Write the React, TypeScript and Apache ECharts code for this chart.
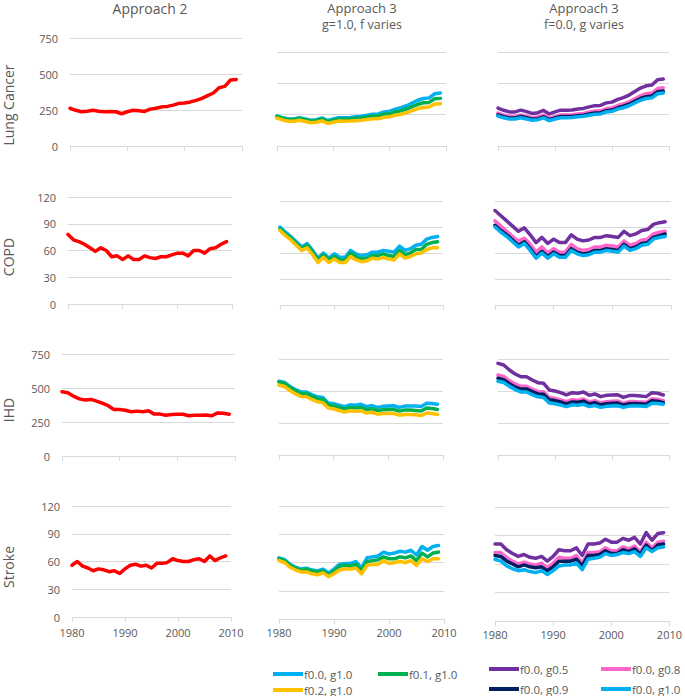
import React, { useEffect, useRef } from 'react';
import * as echarts from 'echarts';

// ---------- DATA ----------
const YEARS = [1980, 1981, 1982, 1983, 1984, 1985, 1986, 1987, 1988, 1989, 1990, 1991, 1992, 1993, 1994, 1995, 1996, 1997, 1998, 1999, 2000, 2001, 2002, 2003, 2004, 2005, 2006, 2007, 2008, 2009];
const X_TICKS = [1980, 1990, 2000, 2010];
const ROW_NAMES = ['Lung Cancer', 'COPD', 'IHD', 'Stroke'];
const Y_MAX = [750, 120, 750, 120];
const Y_STEP = [250, 30, 250, 30];
const COL_TITLES = ['Approach 2', 'Approach 3', 'Approach 3'];
const COL_SUBTITLES = ['', 'g=1.0, f varies', 'f=0.0, g varies'];

// Lung cancer
const LC_A2 = [262, 248, 238, 242, 248, 242, 238, 240, 238, 224, 238, 248, 245, 240, 256, 262, 272, 275, 284, 296, 298, 306, 317, 331, 350, 368, 405, 414, 458, 462];
const LC_F00 = [239, 225, 215, 215, 226, 216, 205, 210, 224, 202, 215, 226, 226, 228, 233, 237, 246, 254, 256, 272, 277, 294, 305, 321, 343, 365, 379, 384, 417, 422];
const LC_F01 = [237, 222, 212, 211, 221, 210, 199, 203, 216, 194, 206, 216, 215, 217, 221, 223, 231, 238, 239, 253, 257, 272, 281, 295, 314, 333, 345, 348, 377, 380];
const LC_F02 = [222, 208, 198, 197, 206, 196, 185, 189, 200, 180, 190, 199, 198, 199, 202, 205, 211, 217, 217, 230, 233, 246, 253, 265, 282, 299, 308, 311, 335, 338];
const LC_G05 = [302, 285, 272, 272, 286, 274, 260, 266, 284, 256, 272, 286, 286, 288, 295, 300, 312, 322, 324, 344, 350, 372, 386, 406, 434, 462, 480, 486, 528, 534];
const LC_G08 = [262, 247, 236, 236, 248, 238, 226, 231, 247, 222, 236, 248, 248, 250, 256, 260, 271, 280, 281, 299, 304, 323, 335, 352, 377, 401, 417, 422, 458, 464];
const LC_G09 = [248, 234, 223, 223, 235, 225, 213, 218, 233, 210, 223, 235, 235, 236, 242, 246, 256, 264, 266, 282, 287, 305, 317, 333, 356, 379, 394, 399, 433, 438];
const LC_G10 = [239, 225, 215, 215, 226, 216, 205, 210, 224, 202, 215, 226, 226, 228, 233, 237, 246, 254, 256, 272, 277, 294, 305, 321, 343, 365, 379, 384, 417, 422];

// COPD
const COPD_A2 = [78, 72, 70, 67, 63, 59, 63, 60, 53, 54, 50, 54, 50, 50, 54, 52, 51, 53, 53, 55, 57, 57, 54, 60, 60, 57, 62, 63, 67, 70];
const COPD_F00 = [90, 84, 79, 73, 67, 71, 63, 54, 60, 54, 59, 55, 55, 63, 59, 57, 58, 61, 61, 63, 62, 61, 68, 63, 65, 69, 70, 76, 78, 79];
const COPD_F01 = [88, 82, 77, 71, 65, 69, 61, 52, 58, 52, 56, 52, 52, 60, 56, 53, 54, 57, 57, 59, 57, 56, 63, 58, 60, 64, 64, 70, 72, 73];
const COPD_F02 = [86, 80, 75, 69, 63, 66, 58, 49, 55, 49, 53, 49, 49, 56, 52, 50, 51, 54, 53, 55, 53, 52, 59, 54, 56, 59, 60, 64, 66, 66];
const COPD_G05 = [109, 103, 97, 91, 85, 89, 81, 72, 78, 71, 76, 72, 72, 81, 76, 74, 75, 78, 78, 80, 79, 78, 85, 80, 82, 86, 87, 93, 95, 96];
const COPD_G08 = [97, 91, 85, 79, 74, 77, 70, 61, 67, 60, 65, 61, 61, 70, 65, 63, 64, 67, 67, 69, 68, 67, 74, 69, 71, 75, 76, 82, 84, 85];
const COPD_G09 = [92, 86, 81, 75, 69, 73, 65, 56, 62, 56, 61, 57, 57, 65, 61, 59, 60, 63, 63, 65, 64, 63, 70, 65, 67, 71, 72, 78, 80, 82];
const COPD_G10 = [90, 84, 79, 73, 67, 71, 63, 54, 60, 54, 59, 55, 55, 63, 59, 57, 58, 61, 61, 63, 62, 61, 68, 63, 65, 69, 70, 76, 78, 79];

// IHD
const IHD_A2 = [472, 465, 440, 420, 412, 416, 403, 388, 370, 342, 342, 336, 325, 330, 325, 332, 308, 308, 300, 305, 307, 307, 296, 300, 300, 302, 296, 317, 315, 307];
const IHD_F00 = [576, 566, 536, 511, 493, 492, 472, 455, 450, 407, 400, 390, 378, 392, 388, 396, 378, 386, 372, 380, 383, 385, 372, 382, 383, 382, 378, 405, 403, 396];
const IHD_F01 = [570, 559, 527, 501, 482, 479, 458, 440, 434, 392, 384, 373, 360, 372, 367, 373, 355, 362, 347, 354, 355, 356, 343, 351, 351, 348, 344, 367, 364, 356];
const IHD_F02 = [547, 535, 504, 477, 458, 455, 434, 416, 409, 368, 359, 348, 336, 346, 341, 345, 328, 333, 319, 324, 324, 324, 311, 317, 316, 314, 308, 328, 324, 317];
const IHD_G05 = [716, 703, 664, 633, 612, 612, 586, 565, 560, 508, 500, 487, 469, 487, 482, 492, 466, 477, 456, 466, 469, 471, 450, 464, 464, 461, 456, 487, 482, 469];
const IHD_G08 = [625, 614, 581, 555, 537, 537, 515, 497, 494, 449, 442, 431, 416, 432, 428, 437, 415, 425, 407, 417, 420, 422, 404, 417, 417, 415, 411, 439, 435, 424];
const IHD_G09 = [599, 589, 557, 532, 515, 516, 495, 477, 474, 431, 425, 414, 399, 415, 412, 421, 399, 409, 392, 401, 404, 406, 389, 401, 402, 400, 396, 424, 420, 409];
const IHD_G10 = [576, 566, 536, 511, 493, 492, 472, 455, 450, 407, 400, 390, 378, 392, 388, 396, 378, 386, 372, 380, 383, 385, 372, 382, 383, 382, 378, 405, 403, 396];

// Stroke
const ST_A2 = [56, 60, 55, 53, 50, 52, 51, 49, 50, 47, 52, 56, 57, 55, 56, 53, 58, 58, 59, 63, 61, 60, 60, 62, 63, 60, 66, 61, 64, 66];
const ST_F00 = [65, 63, 58, 55, 53, 54, 52, 51, 53, 49, 53, 58, 59, 59, 61, 54, 65, 66, 67, 71, 69, 70, 72, 71, 73, 68, 77, 73, 77, 78];
const ST_F01 = [64, 62, 57, 54, 52, 53, 51, 50, 51, 47, 51, 56, 57, 56, 58, 51, 61, 62, 63, 66, 64, 64, 66, 65, 67, 62, 70, 66, 70, 71];
const ST_F02 = [62, 60, 55, 52, 50, 50, 48, 47, 49, 45, 48, 52, 53, 53, 54, 48, 57, 58, 58, 62, 59, 60, 61, 60, 62, 57, 64, 61, 64, 64];
const ST_G05 = [81, 81, 75, 71, 68, 70, 67, 66, 68, 63, 68, 75, 74, 74, 77, 69, 81, 81, 82, 86, 83, 83, 87, 85, 88, 81, 93, 85, 92, 93];
const ST_G08 = [72, 72, 67, 63, 60, 62, 60, 59, 61, 56, 61, 67, 66, 66, 69, 61, 72, 72, 73, 77, 74, 74, 78, 76, 79, 73, 83, 77, 83, 84];
const ST_G09 = [69, 68, 63, 60, 57, 59, 57, 56, 57, 53, 57, 63, 63, 63, 65, 58, 69, 69, 70, 74, 71, 71, 75, 73, 76, 70, 80, 74, 80, 81];
const ST_G10 = [65, 63, 58, 55, 53, 54, 52, 51, 53, 49, 53, 58, 59, 59, 61, 54, 65, 66, 67, 71, 69, 70, 72, 71, 73, 68, 77, 73, 77, 78];

const A2_NAMES = ['Approach 2'];
const F_NAMES = ['f0.0, g1.0', 'f0.1, g1.0', 'f0.2, g1.0'];
const G_NAMES = ['f0.0, g0.5', 'f0.0, g0.8', 'f0.0, g0.9', 'f0.0, g1.0'];

// ---------- STYLE / LAYOUT ----------
const FONT = '"Open Sans", "Liberation Sans", sans-serif';
const TEXT = '#595959';
const GRID_COLOR = '#D9D9D9';
const A2_COLORS = ['#FF0000'];
const F_COLORS = ['#00B0F0', '#00B050', '#FFC000'];
const G_COLORS = ['#7030A0', '#FF66CC', '#002060', '#00B0F0'];

// [left, top, width, height] per row, per column
const GRID_BOXES = [
  [[70, 38, 172, 108], [277, 52, 169, 94], [498, 52, 171, 94]],
  [[68, 197, 164, 107], [280, 201, 163, 104], [495, 201, 176, 104]],
  [[62, 354, 173, 102], [279, 359, 164, 96], [498, 359, 171, 96]],
  [[72, 506, 159, 111], [279, 506, 165, 113], [495, 507, 177, 114]],
];
const TITLE_POS = [[150, 8, 14], [362, 8, 13], [584, 8, 13]];
const SUBTITLE_Y = 24;
const ROW_NAME_POS = [[8.5, 105], [8.5, 257], [8.5, 410], [8.5, 567]];
const LEGEND_POS: [string, number, number][] = [
  ['f0.0, g1.0', 273, 674],
  ['f0.1, g1.0', 378, 674],
  ['f0.2, g1.0', 273, 690],
  ['f0.0, g0.5', 489, 669],
  ['f0.0, g0.8', 601, 669],
  ['f0.0, g0.9', 489, 689],
  ['f0.0, g1.0', 601, 689],
];

const PANELS: number[][][][] = [
  [[LC_A2], [LC_F00, LC_F01, LC_F02], [LC_G05, LC_G08, LC_G09, LC_G10]],
  [[COPD_A2], [COPD_F00, COPD_F01, COPD_F02], [COPD_G05, COPD_G08, COPD_G09, COPD_G10]],
  [[IHD_A2], [IHD_F00, IHD_F01, IHD_F02], [IHD_G05, IHD_G08, IHD_G09, IHD_G10]],
  [[ST_A2], [ST_F00, ST_F01, ST_F02], [ST_G05, ST_G08, ST_G09, ST_G10]],
];
const COL_NAMES = [A2_NAMES, F_NAMES, G_NAMES];
const COL_COLORS = [A2_COLORS, F_COLORS, G_COLORS];

export default function App() {
  const ref = useRef<HTMLDivElement>(null);
  useEffect(() => {
    if (!ref.current) return;
    const chart = echarts.init(ref.current, null, { renderer: 'svg' });
    const grid: any[] = [];
    const xAxis: any[] = [];
    const yAxis: any[] = [];
    const series: any[] = [];

    GRID_BOXES.forEach((rowBoxes, r) => {
      rowBoxes.forEach((box, c) => {
        const idx = r * 3 + c;
        grid.push({ left: box[0], top: box[1], width: box[2], height: box[3], containLabel: false });
        xAxis.push({
          type: 'value', gridIndex: idx,
          min: X_TICKS[0], max: X_TICKS[X_TICKS.length - 1], interval: 10,
          axisLine: { show: true, onZero: false, lineStyle: { color: GRID_COLOR, width: 1 } },
          axisTick: { show: true, length: 5, lineStyle: { color: GRID_COLOR, width: 1 } },
          splitLine: { show: false },
          axisLabel: {
            show: r === 3, color: TEXT, fontSize: 11, fontFamily: FONT,
            margin: c === 0 ? 10 : 8, showMinLabel: true, showMaxLabel: true,
            formatter: (v: number) => String(v),
          },
        });
        yAxis.push({
          type: 'value', gridIndex: idx, min: 0, max: Y_MAX[r], interval: Y_STEP[r],
          axisLine: { show: false }, axisTick: { show: false },
          splitLine: { show: true, lineStyle: { color: GRID_COLOR, width: 1 } },
          axisLabel: { show: c === 0, color: TEXT, fontSize: 11, fontFamily: FONT, margin: 12 },
        });
        PANELS[r][c].forEach((vals, k) => {
          const color = COL_COLORS[c][k];
          series.push({
            type: 'line', name: COL_NAMES[c][k], xAxisIndex: idx, yAxisIndex: idx,
            data: YEARS.map((y, i) => [y, vals[i]]),
            showSymbol: false, symbol: 'none', silent: true,
            lineStyle: { color, width: 3.5, cap: 'round', join: 'round' },
            itemStyle: { color },
          });
        });
      });
    });

    const graphic: any[] = [];
    TITLE_POS.forEach((p, c) => {
      graphic.push({
        type: 'text', x: p[0], y: p[1], silent: true,
        style: { text: COL_TITLES[c], fill: TEXT, fontSize: p[2], fontFamily: FONT, align: 'center', verticalAlign: 'middle' },
      });
      if (COL_SUBTITLES[c]) {
        graphic.push({
          type: 'text', x: p[0], y: SUBTITLE_Y, silent: true,
          style: { text: COL_SUBTITLES[c], fill: TEXT, fontSize: 12.5, fontFamily: FONT, align: 'center', verticalAlign: 'middle' },
        });
      }
    });
    ROW_NAME_POS.forEach((p, r) => {
      graphic.push({
        type: 'text', x: p[0], y: p[1], rotation: Math.PI / 2, silent: true,
        style: { text: ROW_NAMES[r], fill: TEXT, fontSize: 14, fontFamily: FONT, align: 'center', verticalAlign: 'middle' },
      });
    });

    const legend = LEGEND_POS.map(([name, x, y]) => ({
      data: [name], left: x, top: y - 7, padding: 0, orient: 'horizontal',
      icon: 'rect', itemWidth: 30, itemHeight: 4, selectedMode: false,
      textStyle: { color: TEXT, fontSize: 11.5, fontFamily: FONT, lineHeight: 14, padding: [0, 0, 0, -4] },
    }));

    chart.setOption({
      animation: false,
      backgroundColor: '#ffffff',
      grid, xAxis, yAxis, series, graphic, legend,
    });
    return () => chart.dispose();
  }, []);

  return <div ref={ref} style={{ position: 'fixed', left: 0, top: 0, width: 685, height: 696 }} />;
}
